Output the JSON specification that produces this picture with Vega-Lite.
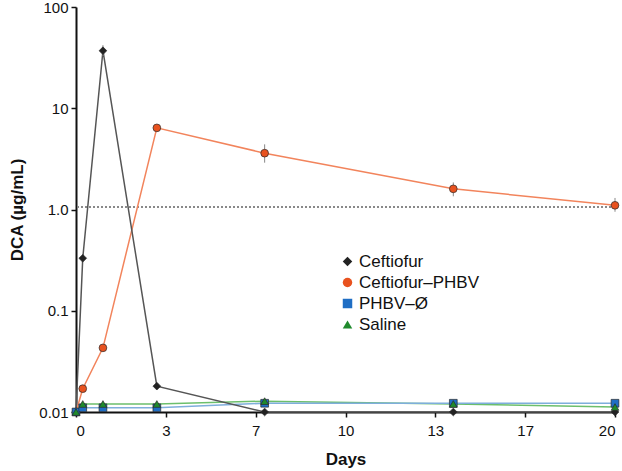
{
  "$schema": "https://vega.github.io/schema/vega-lite/v6.json",
  "width": 539,
  "height": 405,
  "autosize": {"type": "none"},
  "padding": {"left": 76, "top": 7, "right": 7, "bottom": 59},
  "config": {
    "font": "Liberation Sans",
    "view": {"stroke": null},
    "axis": {
      "grid": false,
      "domainColor": "#111",
      "domainWidth": 2,
      "tickColor": "#111",
      "tickWidth": 1.5,
      "tickSize": 5,
      "labelColor": "#111",
      "labelFontSize": 15,
      "titleFontSize": 17,
      "titleFontWeight": "bold",
      "titleColor": "#111"
    }
  },
  "datasets": {
    "main": [
      {"series": "Ceftiofur", "day": 0, "value": 0.01},
      {"series": "Ceftiofur", "day": 0.25, "value": 0.33},
      {"series": "Ceftiofur", "day": 1, "value": 37, "lo": 33, "hi": 42},
      {"series": "Ceftiofur", "day": 3, "value": 0.018},
      {"series": "Ceftiofur", "day": 7, "value": 0.01},
      {"series": "Ceftiofur", "day": 14, "value": 0.01},
      {"series": "Ceftiofur", "day": 20, "value": 0.01},
      {"series": "Ceftiofur–PHBV", "day": 0, "value": 0.01},
      {"series": "Ceftiofur–PHBV", "day": 0.25, "value": 0.017},
      {"series": "Ceftiofur–PHBV", "day": 1, "value": 0.043},
      {"series": "Ceftiofur–PHBV", "day": 3, "value": 6.4, "lo": 6.0, "hi": 6.8},
      {"series": "Ceftiofur–PHBV", "day": 7, "value": 3.6, "lo": 2.9, "hi": 4.4},
      {"series": "Ceftiofur–PHBV", "day": 14, "value": 1.6, "lo": 1.35, "hi": 1.85},
      {"series": "Ceftiofur–PHBV", "day": 20, "value": 1.1, "lo": 0.95, "hi": 1.3},
      {"series": "PHBV–Ø", "day": 0, "value": 0.01},
      {"series": "PHBV–Ø", "day": 0.25, "value": 0.011},
      {"series": "PHBV–Ø", "day": 1, "value": 0.011},
      {"series": "PHBV–Ø", "day": 3, "value": 0.011},
      {"series": "PHBV–Ø", "day": 7, "value": 0.0122},
      {"series": "PHBV–Ø", "day": 14, "value": 0.0122},
      {"series": "PHBV–Ø", "day": 20, "value": 0.0122},
      {"series": "Saline", "day": 0, "value": 0.01},
      {"series": "Saline", "day": 0.25, "value": 0.012},
      {"series": "Saline", "day": 1, "value": 0.012},
      {"series": "Saline", "day": 3, "value": 0.012},
      {"series": "Saline", "day": 7, "value": 0.0128},
      {"series": "Saline", "day": 14, "value": 0.012},
      {"series": "Saline", "day": 20, "value": 0.0112}
    ]
  },
  "data": {"name": "main"},
  "encoding": {
    "x": {
      "field": "day",
      "type": "quantitative",
      "title": "Days",
      "scale": {"domain": [0, 20], "nice": false},
      "axis": {
        "values": [0, 3.3333, 6.6667, 10, 13.3333, 16.6667, 20],
        "format": ".0f",
        "labelPadding": 6,
        "titlePadding": 13
      }
    },
    "y": {
      "field": "value",
      "type": "quantitative",
      "title": "DCA (µg/mL)",
      "scale": {"type": "log", "domain": [0.01, 100], "nice": false},
      "axis": {
        "values": [0.01, 0.1, 1, 10, 100],
        "labelExpr": "datum.value == 1 ? '1.0' : datum.value == 0.1 ? '0.1' : datum.value == 0.01 ? '0.01' : datum.value == 10 ? '10' : '100'",
        "labelPadding": 3,
        "titlePadding": 12
      }
    }
  },
  "layer": [
    {
      "mark": {"type": "rule", "strokeDash": [2, 2], "color": "#8a8a8a", "strokeWidth": 1},
      "encoding": {
        "x": null,
        "y": {"datum": 1.05, "type": "quantitative"}
      }
    },
    {
      "transform": [{"filter": "datum.series == 'Saline'"}],
      "mark": {"type": "line", "strokeWidth": 1.5, "color": "#6cbf6c"},
      "encoding": {}
    },
    {
      "transform": [{"filter": "datum.series == 'PHBV–Ø'"}],
      "mark": {"type": "line", "strokeWidth": 1.5, "color": "#7eaedb"},
      "encoding": {}
    },
    {
      "transform": [{"filter": "datum.series == 'Ceftiofur–PHBV'"}],
      "mark": {"type": "line", "strokeWidth": 1.5, "color": "#f2845c"},
      "encoding": {}
    },
    {
      "transform": [{"filter": "datum.series == 'Ceftiofur'"}],
      "mark": {"type": "line", "strokeWidth": 1.5, "color": "#555555"},
      "encoding": {}
    },
    {
      "transform": [{"filter": "isValid(datum.lo)"}],
      "mark": {"type": "rule", "color": "#888888", "strokeWidth": 1},
      "encoding": {
        "y": {"field": "lo", "type": "quantitative"},
        "y2": {"field": "hi"}
      }
    },
    {
      "mark": {"type": "point", "filled": true, "size": 60, "stroke": "#2a2a2a", "strokeWidth": 0.7, "opacity": 1},
      "encoding": {
        "fill": {
          "field": "series",
          "type": "nominal",
          "title": null,
          "scale": {
            "domain": ["Ceftiofur", "Ceftiofur–PHBV", "PHBV–Ø", "Saline"],
            "range": ["#222222", "#e8521f", "#1f6ec4", "#1f8a2c"]
          },
          "legend": {
            "orient": "none",
            "legendX": 263,
            "legendY": 246,
            "labelFontSize": 17,
            "labelColor": "#111",
            "labelOffset": 3,
            "symbolSize": 90,
            "rowPadding": 3,
            "symbolStrokeColor": "#2a2a2a",
            "symbolStrokeWidth": 0.7
          }
        },
        "shape": {
          "field": "series",
          "type": "nominal",
          "title": null,
          "scale": {
            "domain": ["Ceftiofur", "Ceftiofur–PHBV", "PHBV–Ø", "Saline"],
            "range": ["diamond", "circle", "square", "triangle-up"]
          },
          "legend": {
            "orient": "none",
            "legendX": 263,
            "legendY": 246,
            "labelFontSize": 17,
            "labelColor": "#111",
            "labelOffset": 3,
            "symbolSize": 90,
            "rowPadding": 3,
            "symbolStrokeColor": "#2a2a2a",
            "symbolStrokeWidth": 0.7
          }
        }
      }
    }
  ]
}
